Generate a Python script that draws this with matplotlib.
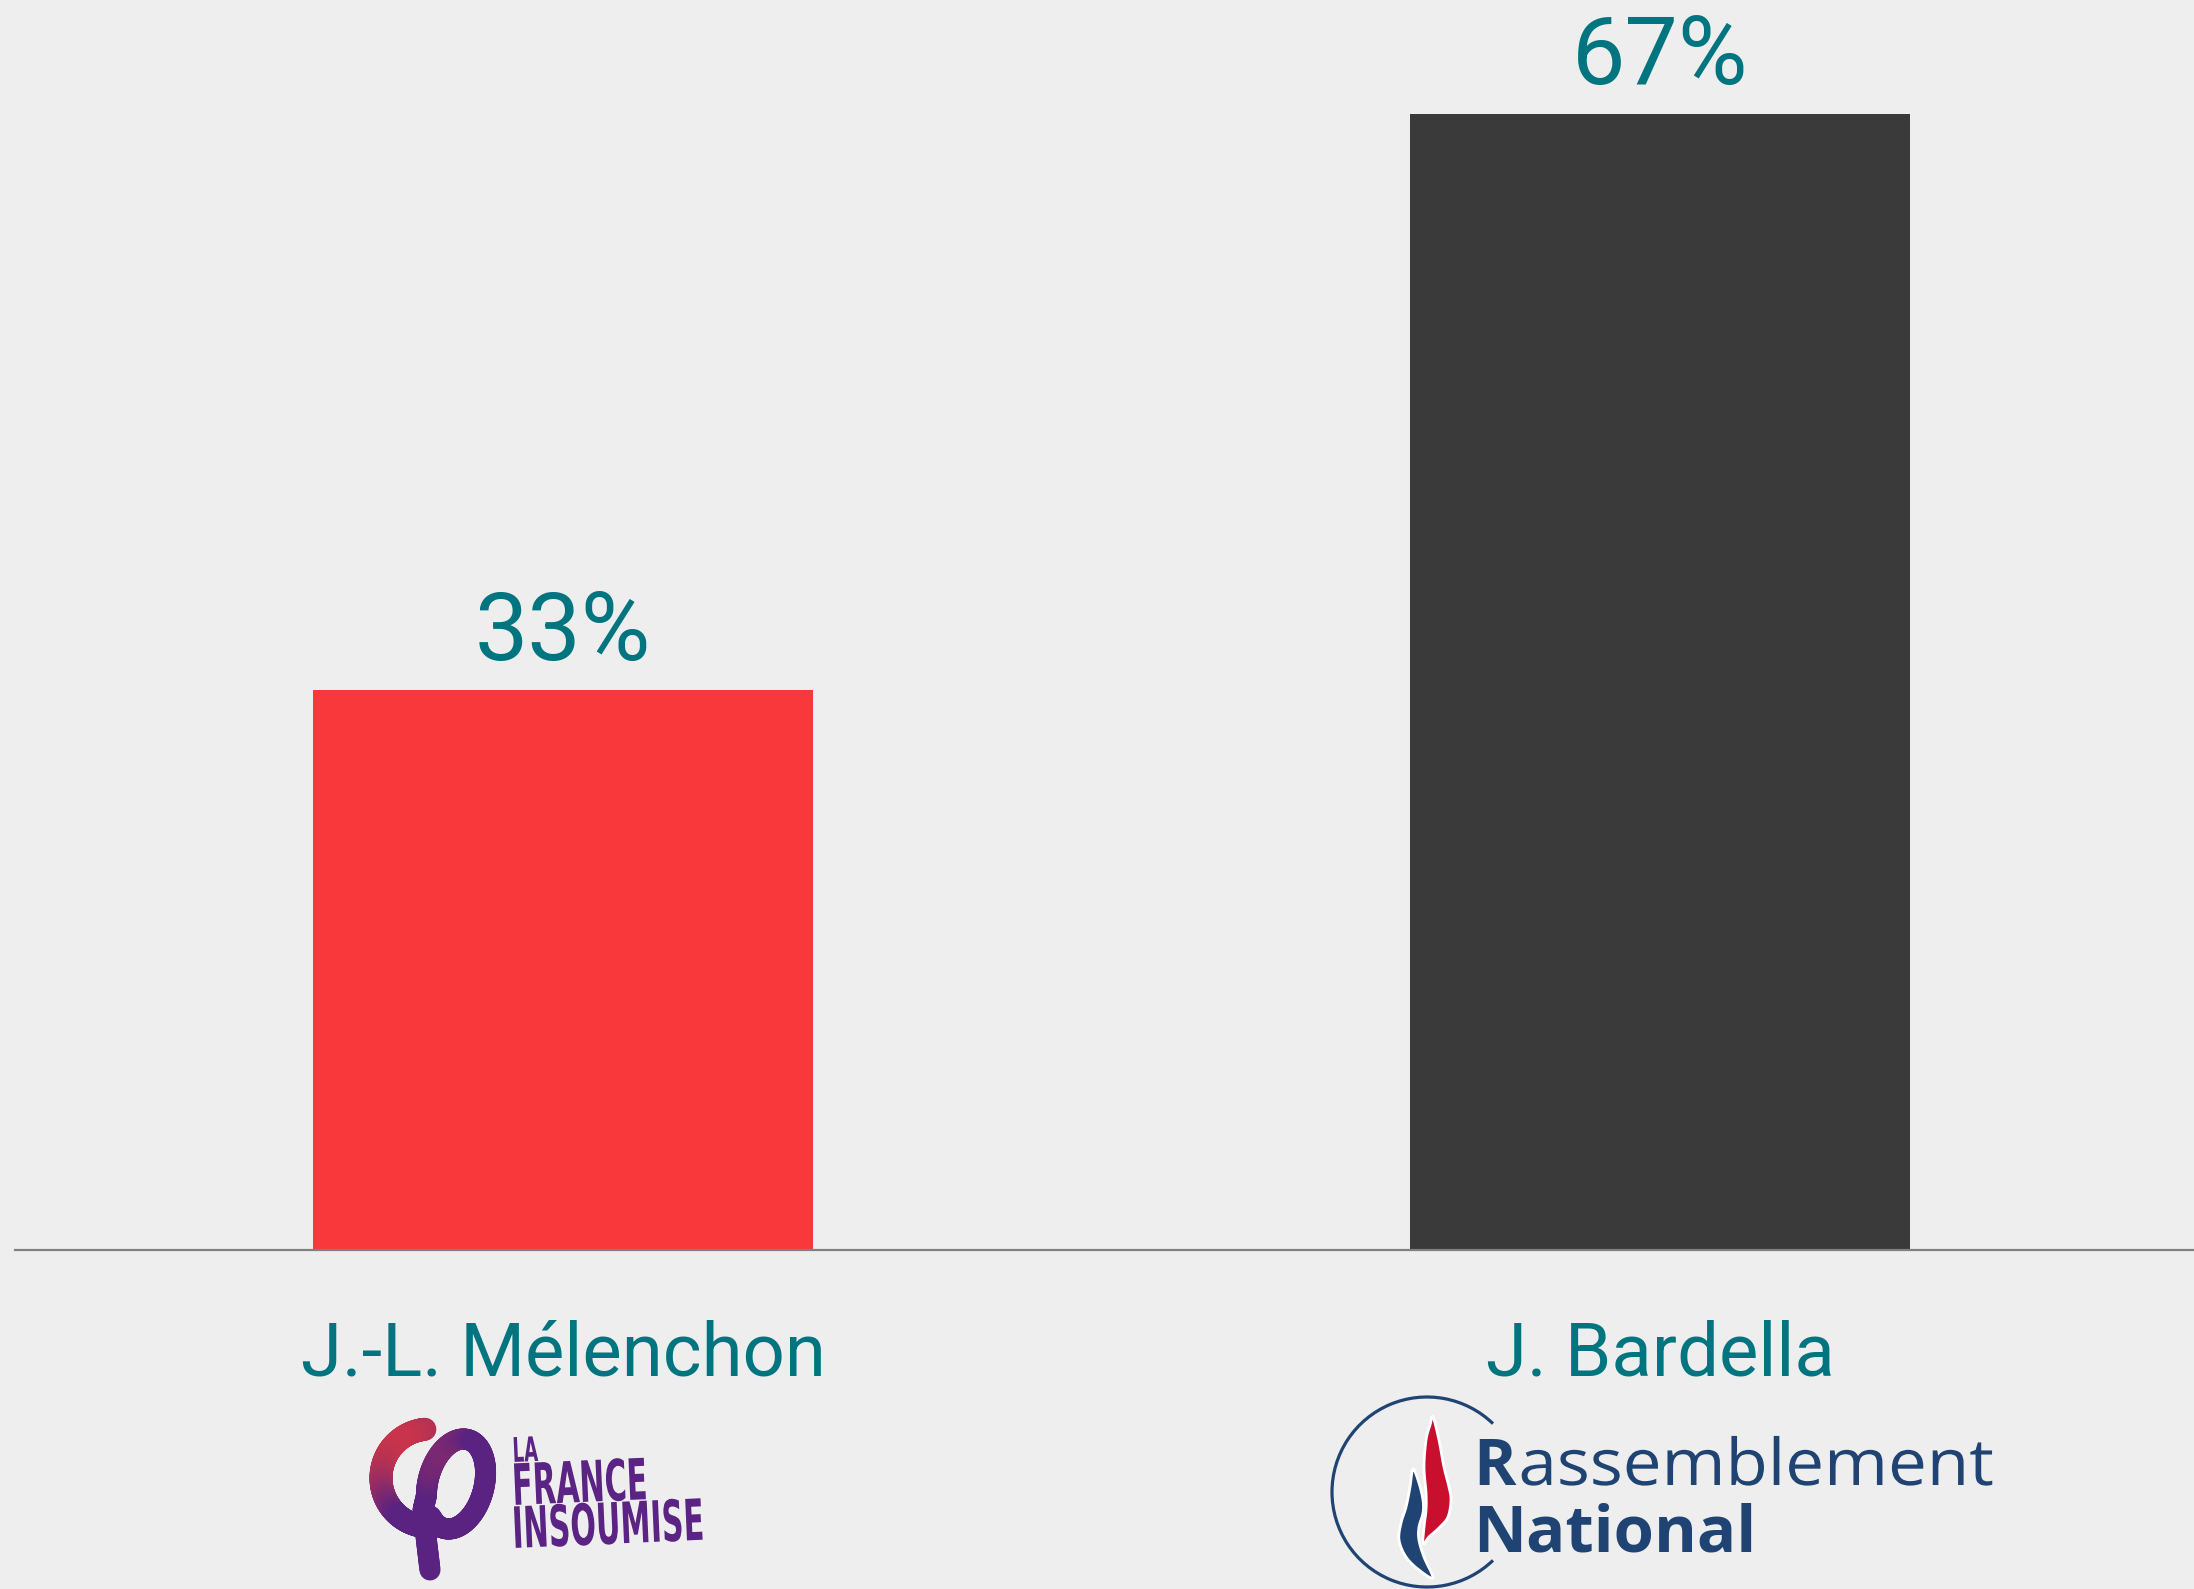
import matplotlib
matplotlib.use('Agg')
import matplotlib.pyplot as plt
import numpy as np
from matplotlib.collections import LineCollection
from matplotlib.patches import Arc, Polygon
from matplotlib.patheffects import AbstractPathEffect
from matplotlib.transforms import Affine2D, blended_transform_factory

# ---------------- data ----------------
candidates = ["J.-L. Mélenchon", "J. Bardella"]
shares = [33, 67]
value_labels = ["33%", "67%"]
bar_colors = ["#F8383A", "#3A3A3A"]

# ---------------- figure ----------------
W, H = 2194, 1589
DPI = 100
BG = "#EEEEEE"
TEAL = "#007580"
PT = 72.0 / DPI  # points per pixel

fig = plt.figure(figsize=(W / DPI, H / DPI), dpi=DPI, facecolor=BG)
ax = fig.add_axes([15 / W, (H - 1250) / H, 1 - 15 / W, 1250 / H])
ax.set_facecolor(BG)

x = np.arange(len(candidates))
ax.bar(x, shares, width=0.456, color=bar_colors, zorder=2)
ax.set_xlim(-0.4995, 1.4868)
ax.set_ylim(0, 1250 / 16.96)
for s in ["top", "right", "left"]:
    ax.spines[s].set_visible(False)
ax.spines["bottom"].set_color("#808080")
ax.spines["bottom"].set_linewidth(2.2 * PT)
ax.spines["bottom"].set_zorder(3)
ax.set_xticks([])
ax.set_yticks([])

for xi, v, lbl in zip(x, shares, value_labels):
    ax.annotate(lbl, (xi, v), xytext=(0, 30 * PT), textcoords="offset points",
                ha="center", va="baseline", fontsize=68.5, color=TEAL,
                family="Roboto")

btr = blended_transform_factory(ax.transData, ax.transAxes)
for xi, name in zip(x, candidates):
    ax.text(xi, -126 / 1250, name, transform=btr, ha="center", va="baseline",
            fontsize=53.5, color=TEAL, family="Roboto")

# ---------------- logos (overlay in pixel coordinates) ----------------
ov = fig.add_axes([0, 0, 1, 1], zorder=5)
ov.set_xlim(0, W)
ov.set_ylim(H, 0)
ov.axis("off")
ov.patch.set_alpha(0)


class Condense(AbstractPathEffect):
    """Horizontal scaling of a text's glyphs along its own baseline."""

    def __init__(self, sx):
        super().__init__()
        self.sx = sx

    def draw_path(self, renderer, gc, tpath, affine, rgbFace=None):
        renderer.draw_path(gc, tpath, Affine2D().scale(self.sx, 1) + affine, rgbFace)


# --- La France Insoumise ---
RED = np.array([227, 56, 62]) / 255
PURP = np.array([90, 35, 129]) / 255


def grad_col(px, py):
    t = np.clip(((px - 382) + (py - 1438)) / 95.0, 0, 1)
    return [tuple(RED * (1 - ti) + PURP * ti) for ti in t]


def stroke(px, py, lw):
    pts = np.column_stack([px, py])
    segs = np.stack([pts[:-1], pts[1:]], axis=1)
    mx = (pts[:-1, 0] + pts[1:, 0]) / 2
    my = (pts[:-1, 1] + pts[1:, 1]) / 2
    lc = LineCollection(segs, colors=grad_col(mx, my), linewidths=lw * PT,
                        capstyle="round", joinstyle="round")
    ov.add_collection(lc)


# stem + tilted loop
cxl, cyl, rx, ry, al = 456, 1484, 28, 46, np.radians(15)
ph = np.radians(np.linspace(204, -125, 200))
u, v = rx * np.cos(ph), ry * np.sin(ph)
lx = cxl + u * np.cos(al) + v * np.sin(al)
ly = cyl - (v * np.cos(al) - u * np.sin(al))
stem_t = np.linspace(0, 1, 40)
sx0 = np.interp(stem_t, [0, 0.3, 0.7, 1], [430, 427, 423, lx[0]])
sy0 = np.interp(stem_t, [0, 0.3, 0.7, 1], [1570, 1545, 1510, ly[0]])
stroke(np.concatenate([sx0, lx]), np.concatenate([sy0, ly]), 21)
# C arc with head
th = np.radians(np.linspace(96, 274, 180))
stroke(430 + 49 * np.cos(th), 1478 - 49 * np.sin(th), 23)

LFI = "#5B2383"
ce = [Condense(0.53)]
for txt, yb, fs in [("LA", 1462, 24.5), ("FRANCE", 1505, 41), ("INSOUMISE", 1548, 41)]:
    ov.text(513, yb, txt, fontsize=fs, fontweight="bold", family="DejaVu Sans",
            color=LFI, rotation=2.5, rotation_mode="anchor", ha="left",
            va="baseline", path_effects=ce)

# --- Rassemblement National ---
RNB = "#1F4473"
RNR = "#C8102E"
ov.add_patch(Arc((1427, 1492), 190, 190, theta1=46, theta2=314, color=RNB,
                 lw=3.2 * PT))


def smooth_closed(pts, n=12):
    pts = np.asarray(pts, float)
    m = len(pts)
    out = []
    for i in range(m):
        p0, p1, p2, p3 = pts[i - 1], pts[i], pts[(i + 1) % m], pts[(i + 2) % m]
        for t in np.linspace(0, 1, n, endpoint=False):
            t2, t3 = t * t, t * t * t
            out.append(0.5 * ((2 * p1) + (-p0 + p2) * t + (2 * p0 - 5 * p1 + 4 * p2 - p3) * t2
                              + (-p0 + 3 * p1 - 3 * p2 + p3) * t3))
    return np.array(out)


red_flame = [(1433, 1417), (1439, 1440), (1444, 1467), (1449, 1487), (1451, 1500),
             (1448, 1517), (1439, 1528), (1429, 1537), (1423, 1544), (1424, 1527),
             (1426, 1510), (1426, 1493), (1424, 1467), (1426, 1440), (1430, 1425)]
blue_flame = [(1413, 1469), (1419, 1483), (1423, 1500), (1423, 1513), (1419, 1527),
              (1419, 1540), (1424, 1557), (1433, 1578), (1419, 1570), (1406, 1557),
              (1399, 1540), (1401, 1523), (1406, 1507), (1410, 1487)]
ov.add_patch(Polygon(smooth_closed(blue_flame), closed=True, facecolor=RNB,
                     edgecolor="white", lw=2.8 * PT, joinstyle="round"))
ov.add_patch(Polygon(smooth_closed(red_flame), closed=True, facecolor=RNR,
                     edgecolor="white", lw=2.8 * PT, joinstyle="round"))

rtxt = ov.text(1473, 1485, "R", fontsize=46.5, fontweight="bold", family="Open Sans",
               color=RNB, ha="left", va="baseline")
fig.canvas.draw()
bb = rtxt.get_window_extent(renderer=fig.canvas.get_renderer())
xr = ov.transData.inverted().transform((bb.x1, bb.y0))[0]
ov.text(xr + 3, 1485, "assemblement", fontsize=46.5, family="Open Sans",
        color=RNB, ha="left", va="baseline", path_effects=[Condense(1.07)])
ov.text(1473, 1552, "National", fontsize=47, fontweight="bold", family="Open Sans",
        color=RNB, ha="left", va="baseline")

fig.savefig("out.png", dpi=DPI, facecolor=BG)
